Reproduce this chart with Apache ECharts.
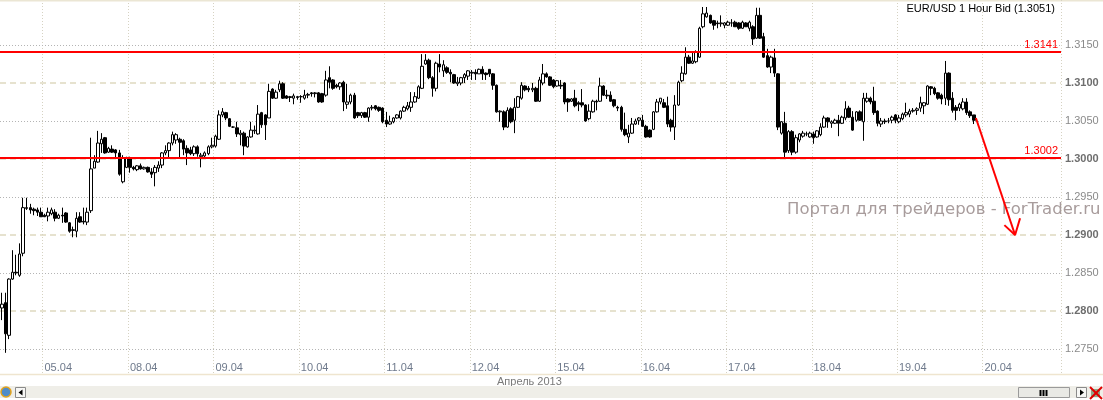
<!DOCTYPE html>
<html><head><meta charset="utf-8">
<script src="https://cdn.jsdelivr.net/npm/echarts@6.0.0/dist/echarts.min.js"></script>
<style>html,body{margin:0;padding:0;background:#fff}#c{width:1103px;height:400px}</style>
</head><body><div id="c"></div><script>
// ---- data (EUR/USD 1 Hour Bid, April 2013) ----
const days = ['04.04','05.04','08.04','09.04','10.04','11.04','12.04','15.04','16.04','17.04','18.04','19.04','20.04'];
const firstDayStartHour = 12;   // chart begins at 04.04 12:00
const lastDayHours = 22;        // empty slots shown for 20.04
const title = 'EUR/USD 1 Hour Bid (1.3051)';
const monthLabel = 'Апрель 2013';
const watermark = 'Портал для трейдеров - ForTrader.ru';
const levels = [1.3141, 1.3002];
const priceMin = 1.27, priceMax = 1.32092;
// rows: [open, close, low, high]
const apr04 = [
[1.2804,1.2809,1.2788,1.2824],[1.2811,1.2770,1.2745,1.2824],[1.2768,1.2842,1.2763,1.2843],[1.2842,1.2851,1.2841,1.2880],
[1.2851,1.2850,1.2847,1.2874],[1.2847,1.2875,1.2845,1.2889],[1.2876,1.2936,1.2872,1.2949],[1.2935,1.2936,1.2933,1.2949],
[1.2936,1.2933,1.2928,1.2941],[1.2934,1.2932,1.2926,1.2936],[1.2933,1.2930,1.2925,1.2936],[1.2930,1.2924,1.2924,1.2936]];
const apr05 = [
[1.2926,1.2924,1.2924,1.2928],[1.2925,1.2930,1.2918,1.2936],[1.2928,1.2933,1.2926,1.2936],[1.2930,1.2922,1.2918,1.2934],
[1.2922,1.2926,1.2921,1.2928],[1.2926,1.2925,1.2916,1.2936],[1.2929,1.2917,1.2916,1.2930],[1.2916,1.2905,1.2903,1.2917],
[1.2906,1.2907,1.2897,1.2911],[1.2905,1.2922,1.2897,1.2930],[1.2924,1.2917,1.2916,1.2930],[1.2918,1.2917,1.2914,1.2936],
[1.2917,1.2930,1.2913,1.2936],[1.2932,1.2987,1.2929,1.3028],[1.2988,1.2997,1.2988,1.3005],[1.2996,1.3021,1.2995,1.3037],
[1.3020,1.3026,1.3008,1.3034],[1.3028,1.3008,1.3007,1.3029],[1.3009,1.3014,1.3008,1.3016],[1.3013,1.3009,1.3008,1.3018],
[1.3012,1.3008,1.3000,1.3013],[1.3008,1.2980,1.2978,1.3012],[1.2970,1.3001,1.2968,1.3005],[1.2989,1.3001,1.2988,1.3003]];
const apr08 = [
[1.3001,1.2989,1.2982,1.3003],[1.2989,1.2987,1.2985,1.2991],[1.2986,1.2991,1.2984,1.2992],[1.2991,1.2987,1.2986,1.2994],
[1.2987,1.2989,1.2986,1.2990],[1.2989,1.2983,1.2982,1.2990],[1.2983,1.2980,1.2975,1.2988],[1.2982,1.2989,1.2964,1.2992],
[1.2988,1.2992,1.2983,1.2997],[1.2992,1.3008,1.2988,1.3009],[1.3008,1.3011,1.3005,1.3018],[1.3011,1.3021,1.3000,1.3022],
[1.3021,1.3032,1.3018,1.3036],[1.3025,1.3032,1.3020,1.3034],[1.3026,1.3022,1.3000,1.3028],[1.3024,1.3013,1.3005,1.3026],
[1.3014,1.3008,1.2992,1.3018],[1.3012,1.3007,1.3005,1.3016],[1.3007,1.3016,1.3004,1.3018],[1.3016,1.3007,1.3003,1.3018],
[1.3003,1.3005,1.2989,1.3008],[1.3004,1.3008,1.3001,1.3010],[1.3007,1.3016,1.3005,1.3018],[1.3016,1.3018,1.3014,1.3028]];
const apr09 = [
[1.3017,1.3030,1.3015,1.3032],[1.3026,1.3058,1.3025,1.3064],[1.3058,1.3062,1.3055,1.3067],[1.3061,1.3054,1.3051,1.3062],
[1.3053,1.3043,1.3042,1.3054],[1.3042,1.3042,1.3041,1.3043],[1.3041,1.3033,1.3029,1.3049],[1.3032,1.3034,1.3018,1.3038],
[1.3034,1.3017,1.3005,1.3036],[1.3016,1.3029,1.3015,1.3030],[1.3029,1.3038,1.3028,1.3049],[1.3037,1.3038,1.3033,1.3044],
[1.3033,1.3059,1.3032,1.3071],[1.3061,1.3045,1.3041,1.3062],[1.3058,1.3045,1.3025,1.3059],[1.3054,1.3089,1.3054,1.3099],
[1.3092,1.3080,1.3079,1.3093],[1.3080,1.3088,1.3079,1.3091],[1.3091,1.3099,1.3088,1.3103],[1.3099,1.3080,1.3079,1.3101],
[1.3083,1.3080,1.3079,1.3084],[1.3082,1.3081,1.3075,1.3083],[1.3080,1.3083,1.3072,1.3086],[1.3082,1.3081,1.3078,1.3083]];
const apr10 = [
[1.3082,1.3082,1.3074,1.3084],[1.3080,1.3084,1.3078,1.3091],[1.3084,1.3085,1.3080,1.3087],[1.3087,1.3086,1.3082,1.3088],
[1.3086,1.3087,1.3081,1.3088],[1.3087,1.3075,1.3074,1.3088],[1.3086,1.3075,1.3074,1.3087],[1.3084,1.3104,1.3082,1.3116],
[1.3107,1.3101,1.3093,1.3122],[1.3104,1.3093,1.3091,1.3105],[1.3097,1.3095,1.3093,1.3099],[1.3095,1.3100,1.3091,1.3101],
[1.3101,1.3075,1.3063,1.3103],[1.3072,1.3075,1.3066,1.3099],[1.3075,1.3084,1.3072,1.3086],[1.3084,1.3054,1.3053,1.3087],
[1.3061,1.3057,1.3054,1.3062],[1.3057,1.3061,1.3054,1.3062],[1.3061,1.3055,1.3054,1.3062],[1.3055,1.3067,1.3049,1.3068],
[1.3067,1.3068,1.3064,1.3071],[1.3070,1.3066,1.3064,1.3071],[1.3068,1.3064,1.3062,1.3069],[1.3067,1.3049,1.3047,1.3068]];
const apr11 = [
[1.3051,1.3046,1.3042,1.3062],[1.3046,1.3049,1.3045,1.3057],[1.3049,1.3054,1.3047,1.3055],[1.3054,1.3058,1.3053,1.3059],
[1.3054,1.3063,1.3052,1.3064],[1.3063,1.3068,1.3062,1.3070],[1.3066,1.3070,1.3064,1.3075],[1.3068,1.3075,1.3062,1.3088],
[1.3075,1.3082,1.3074,1.3088],[1.3080,1.3095,1.3079,1.3097],[1.3093,1.3122,1.3092,1.3138],[1.3125,1.3130,1.3124,1.3138],
[1.3130,1.3107,1.3105,1.3132],[1.3107,1.3093,1.3082,1.3109],[1.3093,1.3126,1.3089,1.3128],[1.3125,1.3121,1.3114,1.3138],
[1.3116,1.3124,1.3108,1.3130],[1.3120,1.3114,1.3112,1.3122],[1.3114,1.3112,1.3101,1.3118],[1.3111,1.3100,1.3099,1.3112],
[1.3099,1.3101,1.3096,1.3108],[1.3100,1.3107,1.3097,1.3108],[1.3107,1.3111,1.3100,1.3113],[1.3109,1.3116,1.3104,1.3117]];
const apr12 = [
[1.3113,1.3114,1.3104,1.3117],[1.3114,1.3112,1.3104,1.3118],[1.3112,1.3118,1.3112,1.3119],[1.3118,1.3112,1.3104,1.3122],
[1.3113,1.3111,1.3104,1.3114],[1.3118,1.3112,1.3108,1.3118],[1.3112,1.3097,1.3091,1.3113],[1.3097,1.3062,1.3061,1.3098],
[1.3062,1.3063,1.3049,1.3064],[1.3062,1.3042,1.3038,1.3064],[1.3042,1.3064,1.3041,1.3068],[1.3066,1.3049,1.3047,1.3068],
[1.3051,1.3068,1.3034,1.3080],[1.3068,1.3082,1.3067,1.3083],[1.3080,1.3097,1.3078,1.3101],[1.3096,1.3091,1.3089,1.3097],
[1.3093,1.3091,1.3088,1.3096],[1.3091,1.3093,1.3088,1.3100],[1.3093,1.3076,1.3075,1.3095],[1.3076,1.3104,1.3075,1.3108],
[1.3100,1.3112,1.3097,1.3125],[1.3112,1.3108,1.3107,1.3114],[1.3108,1.3097,1.3096,1.3109],[1.3104,1.3095,1.3093,1.3105]];
const apr15 = [
[1.3096,1.3103,1.3095,1.3104],[1.3097,1.3096,1.3092,1.3104],[1.3100,1.3075,1.3072,1.3101],[1.3079,1.3075,1.3062,1.3080],
[1.3076,1.3079,1.3075,1.3080],[1.3080,1.3070,1.3068,1.3091],[1.3074,1.3072,1.3063,1.3076],[1.3074,1.3071,1.3068,1.3092],
[1.3071,1.3050,1.3049,1.3072],[1.3053,1.3063,1.3051,1.3072],[1.3062,1.3076,1.3061,1.3078],[1.3076,1.3075,1.3064,1.3078],
[1.3076,1.3096,1.3075,1.3107],[1.3096,1.3084,1.3083,1.3097],[1.3084,1.3083,1.3079,1.3091],[1.3084,1.3076,1.3075,1.3089],
[1.3078,1.3070,1.3068,1.3079],[1.3068,1.3067,1.3063,1.3070],[1.3068,1.3039,1.3036,1.3070],[1.3039,1.3032,1.3030,1.3061],
[1.3029,1.3034,1.3021,1.3045],[1.3034,1.3046,1.3033,1.3054],[1.3046,1.3050,1.3045,1.3053],[1.3051,1.3054,1.3045,1.3055]];
const apr16 = [
[1.3051,1.3043,1.3042,1.3058],[1.3043,1.3029,1.3028,1.3045],[1.3038,1.3029,1.3028,1.3039],[1.3039,1.3062,1.3038,1.3063],
[1.3062,1.3075,1.3061,1.3079],[1.3075,1.3080,1.3072,1.3080],[1.3074,1.3068,1.3067,1.3079],[1.3070,1.3046,1.3042,1.3082],
[1.3051,1.3042,1.3036,1.3053],[1.3042,1.3071,1.3025,1.3084],[1.3071,1.3101,1.3070,1.3103],[1.3103,1.3113,1.3101,1.3122],
[1.3112,1.3134,1.3111,1.3147],[1.3134,1.3126,1.3125,1.3137],[1.3126,1.3129,1.3125,1.3142],[1.3128,1.3141,1.3126,1.3143],
[1.3134,1.3172,1.3133,1.3174],[1.3174,1.3191,1.3172,1.3200],[1.3187,1.3192,1.3186,1.3200],[1.3189,1.3179,1.3178,1.3190],
[1.3182,1.3176,1.3170,1.3183],[1.3179,1.3178,1.3172,1.3182],[1.3178,1.3179,1.3174,1.3189],[1.3176,1.3179,1.3172,1.3180]];
const apr17 = [
[1.3176,1.3180,1.3175,1.3182],[1.3179,1.3179,1.3174,1.3184],[1.3180,1.3174,1.3174,1.3182],[1.3179,1.3172,1.3170,1.3180],
[1.3172,1.3180,1.3171,1.3182],[1.3179,1.3174,1.3174,1.3180],[1.3172,1.3180,1.3168,1.3182],[1.3174,1.3158,1.3150,1.3176],
[1.3159,1.3189,1.3158,1.3199],[1.3189,1.3159,1.3158,1.3199],[1.3161,1.3134,1.3133,1.3166],[1.3136,1.3121,1.3120,1.3145],
[1.3121,1.3134,1.3113,1.3136],[1.3133,1.3113,1.3108,1.3145],[1.3112,1.3042,1.3038,1.3113],[1.3034,1.3049,1.3032,1.3050],
[1.3047,1.3009,1.3000,1.3062],[1.3011,1.3036,1.3008,1.3038],[1.3036,1.3009,1.3005,1.3038],[1.3009,1.3028,1.3007,1.3032],
[1.3025,1.3033,1.3022,1.3034],[1.3030,1.3034,1.3028,1.3037],[1.3033,1.3033,1.3030,1.3036],[1.3029,1.3034,1.3028,1.3036]];
const apr18 = [
[1.3033,1.3028,1.3020,1.3036],[1.3029,1.3037,1.3028,1.3038],[1.3032,1.3042,1.3030,1.3047],[1.3042,1.3054,1.3041,1.3057],
[1.3054,1.3049,1.3041,1.3055],[1.3047,1.3049,1.3041,1.3051],[1.3047,1.3051,1.3046,1.3053],[1.3051,1.3047,1.3030,1.3058],
[1.3047,1.3055,1.3046,1.3057],[1.3054,1.3066,1.3051,1.3076],[1.3067,1.3055,1.3054,1.3070],[1.3055,1.3038,1.3037,1.3063],
[1.3051,1.3062,1.3049,1.3063],[1.3062,1.3051,1.3050,1.3064],[1.3049,1.3080,1.3024,1.3087],[1.3076,1.3080,1.3074,1.3087],
[1.3080,1.3075,1.3072,1.3082],[1.3076,1.3061,1.3058,1.3095],[1.3063,1.3047,1.3043,1.3064],[1.3046,1.3050,1.3042,1.3054],
[1.3050,1.3049,1.3046,1.3053],[1.3050,1.3050,1.3047,1.3054],[1.3051,1.3055,1.3047,1.3057],[1.3058,1.3051,1.3047,1.3059]];
const apr19 = [
[1.3049,1.3054,1.3047,1.3058],[1.3053,1.3059,1.3051,1.3061],[1.3058,1.3061,1.3055,1.3074],[1.3059,1.3063,1.3055,1.3066],
[1.3063,1.3064,1.3061,1.3067],[1.3064,1.3066,1.3058,1.3068],[1.3067,1.3074,1.3062,1.3082],[1.3070,1.3074,1.3059,1.3075],
[1.3072,1.3096,1.3071,1.3097],[1.3095,1.3093,1.3084,1.3096],[1.3093,1.3086,1.3084,1.3095],[1.3087,1.3080,1.3078,1.3088],
[1.3084,1.3079,1.3072,1.3086],[1.3080,1.3113,1.3071,1.3129],[1.3113,1.3078,1.3070,1.3114],[1.3080,1.3064,1.3061,1.3088],
[1.3068,1.3064,1.3051,1.3071],[1.3067,1.3072,1.3063,1.3074],[1.3066,1.3075,1.3064,1.3080],[1.3075,1.3061,1.3058,1.3080],
[1.3062,1.3057,1.3054,1.3064],[1.3058,1.3051,1.3046,1.3058]];
// forecast arrow (x in hourly slots, y in price)
const arrowShaft = [[274.1, 1.3054], [285.1, 1.2900]];
const arrowHead = [[282.1, 1.2913], [285.1, 1.2900], [286.5, 1.2922]];
// minor grid levels (dotted) and major grid levels (dashed)
const minorLevels = [1.2750, 1.2850, 1.2950, 1.3050, 1.3150];

// ---- build ----
const candles = [].concat(apr04, apr05, apr08, apr09, apr10, apr11, apr12, apr15, apr16, apr17, apr18, apr19);
const categories = [];
days.forEach((d, k) => {
  const start = k === 0 ? firstDayStartHour : 0;
  const end = k === days.length - 1 ? lastDayHours : 24;
  for (let h = start; h < end; h++) categories.push(d + ' ' + String(h).padStart(2, '0') + ':00');
});
const isDayStart = (i, v) => typeof v === 'string' ? v.endsWith(' 00:00') : (categories[i] || '').endsWith(' 00:00');

const FONT = 'Liberation Sans, Arial, sans-serif';
const beige = '#e6e2cf', dotGray = '#b4b4b4', vGrid = '#d6d2c2', T = 'rgba(0,0,0,0)';

const chart = echarts.init(document.getElementById('c'), null, {renderer: 'canvas'});
chart.setOption({
  animation: false,
  backgroundColor: '#ffffff',
  grid: {left: 0, right: 42, top: 0, bottom: 13, containLabel: false},
  xAxis: [{
    type: 'category', data: categories, boundaryGap: true,
    axisLine: {show: false}, axisTick: {show: false},
    axisLabel: {inside: true, margin: 14, interval: isDayStart, formatter: v => v.slice(0, 5),
      align: 'left', color: '#6f7a8c', fontSize: 11, fontFamily: FONT},
    splitLine: {show: true, interval: isDayStart, lineStyle: {color: vGrid, type: [1, 2], width: 1}}
  }, {
    type: 'value', min: 0, max: categories.length, show: false
  }],
  yAxis: [{
    type: 'value', min: priceMin, max: priceMax, interval: 0.01, position: 'right', scale: false,
    axisLine: {show: false}, axisTick: {show: false},
    axisLabel: {margin: 4, color: '#6e6e6e', fontWeight: 'bold', fontSize: 11, fontFamily: FONT, showMaxLabel: false,
      formatter: v => (v > 1.2705 && v < 1.3195) ? v.toFixed(4) : ''},
    splitLine: {show: true, lineStyle: {color: [T, beige, beige, beige, beige, T, T, T], type: [6, 4], width: 2}}
  }, {
    type: 'value', min: priceMin, max: priceMax, interval: 0.005, position: 'right', scale: false,
    axisLine: {show: false}, axisTick: {show: false},
    axisLabel: {margin: 4, color: '#8a8a8a', fontSize: 11, fontFamily: FONT, showMaxLabel: false,
      formatter: v => (Math.round(v * 1000) % 10 === 5 && v < 1.319) ? v.toFixed(4) : ''},
    splitLine: {show: false}
  }],
  series: [{
    type: 'candlestick', xAxisIndex: 0, yAxisIndex: 0, data: candles, barWidth: 3,
    itemStyle: {color: '#ffffff', color0: '#000000', borderColor: '#000000', borderColor0: '#000000', borderWidth: 1},
    markLine: {
      silent: true, symbol: ['none', 'none'], animation: false, precision: 4,
      lineStyle: {color: '#ff0000', width: 2, type: 'solid'},
      label: {position: 'insideEndTop', distance: [3, 1], color: '#ff0000', fontSize: 11, fontFamily: FONT,
        formatter: p => Number(p.value).toFixed(4)},
      data: levels.map(v => ({yAxis: v}))
    }
  }, {
    // dotted minor grid lines through the value scale
    type: 'line', xAxisIndex: 0, yAxisIndex: 0, data: [], silent: true, z: 0,
    markLine: {
      silent: true, symbol: ['none', 'none'], animation: false, precision: 4, z: 0,
      lineStyle: {color: dotGray, width: 1, type: [1, 2]},
      label: {show: false},
      data: minorLevels.map(v => ({yAxis: v}))
    }
  }, {
    type: 'line', xAxisIndex: 1, yAxisIndex: 0, data: arrowShaft, symbol: 'none', silent: true, z: 5,
    lineStyle: {color: '#ff0000', width: 2}
  }, {
    type: 'line', xAxisIndex: 1, yAxisIndex: 0, data: arrowHead, symbol: 'none', silent: true, z: 5,
    lineStyle: {color: '#ff0000', width: 2}
  }],
  graphic: [
    {type: 'text', z: 1, left: 787, top: 201, style: {text: watermark, fill: '#a89c9c', font: '16.5px "DejaVu Sans"'}},
    {type: 'text', z: 10, right: 48, top: 3, style: {text: title, fill: '#000', font: '11px ' + FONT}},
    {type: 'line', z: 10, shape: {x1: 0, y1: 0.75, x2: 1103, y2: 0.75}, style: {stroke: '#ebe6d4', lineWidth: 1.5}},
    {type: 'line', z: 10, shape: {x1: 1061.5, y1: 0, x2: 1061.5, y2: 362}, style: {stroke: vGrid, lineWidth: 1, lineDash: [1, 2]}},
    {type: 'rect', z: 20, shape: {x: 0, y: 375, width: 1103, height: 25}, style: {fill: '#ffffff'}},
    {type: 'line', z: 21, shape: {x1: 0, y1: 374.5, x2: 1103, y2: 374.5}, style: {stroke: '#efe5cf', lineWidth: 1.5}},
    {type: 'text', z: 21, left: 497, top: 376, style: {text: monthLabel, fill: '#7a7a7a', font: '11px ' + FONT}},
    {type: 'rect', z: 21, shape: {x: 0, y: 386, width: 1103, height: 12}, style: {fill: '#efeee8'}},
    {type: 'circle', z: 22, shape: {cx: 6, cy: 392, r: 5}, style: {fill: '#4f8cc9', stroke: '#e3a31c', lineWidth: 1.5}},
    {type: 'rect', z: 22, shape: {x: 15.5, y: 387.5, width: 10, height: 10}, style: {fill: '#f7f7f5', stroke: '#8a8a8a', lineWidth: 1}},
    {type: 'polygon', z: 23, shape: {points: [[22.5, 389.5], [22.5, 395.5], [18.5, 392.5]]}, style: {fill: '#000'}},
    {type: 'rect', z: 22, shape: {x: 1018.5, y: 387.5, width: 51, height: 10}, style: {fill: '#e9e9e5', stroke: '#9a9a9a', lineWidth: 1}},
    {type: 'line', z: 23, shape: {x1: 1040.5, y1: 390, x2: 1040.5, y2: 396}, style: {stroke: '#000', lineWidth: 2}},
    {type: 'line', z: 23, shape: {x1: 1043.5, y1: 390, x2: 1043.5, y2: 396}, style: {stroke: '#000', lineWidth: 2}},
    {type: 'line', z: 23, shape: {x1: 1046.5, y1: 390, x2: 1046.5, y2: 396}, style: {stroke: '#000', lineWidth: 2}},
    {type: 'rect', z: 22, shape: {x: 1076.5, y: 387.5, width: 10, height: 10}, style: {fill: '#f7f7f5', stroke: '#8a8a8a', lineWidth: 1}},
    {type: 'polygon', z: 23, shape: {points: [[1080, 389.5], [1080, 395.5], [1084, 392.5]]}, style: {fill: '#000'}},
    {type: 'rect', z: 22, shape: {x: 1091, y: 389, width: 9, height: 8}, style: {fill: '#8fa88a'}},
    {type: 'line', z: 23, shape: {x1: 1090, y1: 387, x2: 1102, y2: 399}, style: {stroke: '#e00000', lineWidth: 2}},
    {type: 'line', z: 23, shape: {x1: 1102, y1: 387, x2: 1090, y2: 399}, style: {stroke: '#e00000', lineWidth: 2}}
  ]
});
</script></body></html>
